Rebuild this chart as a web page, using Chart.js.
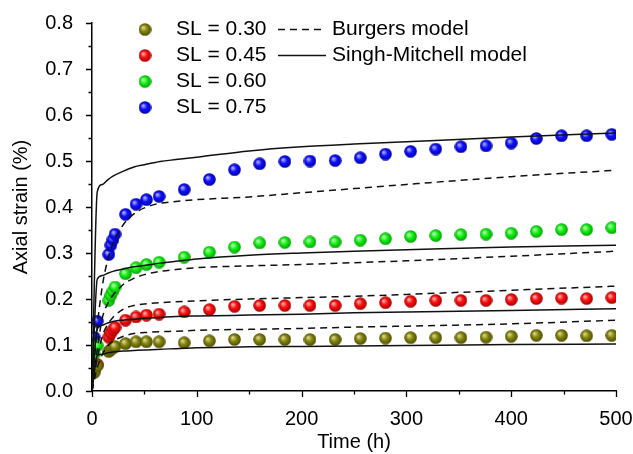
<!DOCTYPE html>
<html lang="en">
<head>
  <meta charset="UTF-8">
  <title>Axial strain vs time</title>
  <script src="https://cdn.jsdelivr.net/npm/chart.js"></script>
  <style>
    html, body { margin: 0; padding: 0; background: #fff; overflow: hidden; }
  </style>
</head>
<body>
  <canvas id="grafico" width="633" height="454"></canvas>

  <script>
    // measured points (time in h, strain in %)
    const timeObs = [2, 5, 16, 18, 20, 22, 32, 42, 52, 64, 88, 112, 136, 160, 184, 208, 232, 256, 280, 304, 328, 352, 376, 400, 424, 448, 472, 496];
    const sl30 = [0.040, 0.055, 0.086, 0.090, 0.094, 0.097, 0.103, 0.107, 0.107, 0.107, 0.105, 0.109, 0.112, 0.112, 0.112, 0.112, 0.112, 0.114, 0.115, 0.116, 0.116, 0.116, 0.117, 0.119, 0.121, 0.121, 0.120, 0.121];
    const sl45 = [0.046, 0.058, 0.117, 0.126, 0.133, 0.138, 0.154, 0.161, 0.165, 0.167, 0.172, 0.177, 0.184, 0.186, 0.186, 0.186, 0.186, 0.190, 0.192, 0.195, 0.197, 0.197, 0.197, 0.199, 0.201, 0.202, 0.201, 0.203];
    const sl60 = [0.080, 0.099, 0.197, 0.208, 0.217, 0.226, 0.255, 0.268, 0.275, 0.280, 0.291, 0.302, 0.313, 0.322, 0.323, 0.324, 0.324, 0.328, 0.331, 0.336, 0.338, 0.340, 0.341, 0.343, 0.347, 0.351, 0.351, 0.355];
    const sl75 = [0.117, 0.152, 0.297, 0.317, 0.329, 0.341, 0.384, 0.406, 0.416, 0.423, 0.438, 0.460, 0.481, 0.494, 0.499, 0.500, 0.501, 0.507, 0.515, 0.521, 0.526, 0.531, 0.533, 0.539, 0.549, 0.555, 0.555, 0.558];

    // model curves sampled at these times
    const timeModel = [0, 5, 10, 15, 20, 30, 40, 50, 65, 80, 100, 150, 200, 250, 300, 400, 500];
    const burgers30 = [0, 0.050, 0.080, 0.098, 0.108, 0.119, 0.125, 0.127, 0.129, 0.130, 0.132, 0.134, 0.136, 0.139, 0.141, 0.146, 0.154];
    const burgers45 = [0, 0.070, 0.120, 0.145, 0.160, 0.178, 0.186, 0.189, 0.192, 0.194, 0.196, 0.200, 0.203, 0.206, 0.210, 0.219, 0.228];
    const burgers60 = [0, 0.090, 0.160, 0.190, 0.208, 0.232, 0.245, 0.253, 0.260, 0.264, 0.268, 0.272, 0.275, 0.279, 0.283, 0.293, 0.304];
    const burgers75 = [0, 0.140, 0.230, 0.285, 0.320, 0.362, 0.385, 0.398, 0.408, 0.412, 0.416, 0.422, 0.431, 0.440, 0.449, 0.466, 0.480];
    const singh30 = [0, 0.077, 0.080, 0.083, 0.085, 0.087, 0.088, 0.089, 0.091, 0.092, 0.094, 0.096, 0.097, 0.098, 0.099, 0.101, 0.102];
    const singh45 = [0, 0.135, 0.143, 0.148, 0.151, 0.154, 0.156, 0.158, 0.160, 0.162, 0.163, 0.165, 0.167, 0.170, 0.172, 0.175, 0.179];
    const singh60 = [0, 0.243, 0.251, 0.256, 0.260, 0.265, 0.270, 0.273, 0.278, 0.282, 0.287, 0.295, 0.300, 0.304, 0.307, 0.313, 0.317];
    const singh75 = [0, 0.433, 0.449, 0.459, 0.467, 0.478, 0.487, 0.492, 0.499, 0.503, 0.508, 0.522, 0.531, 0.537, 0.542, 0.552, 0.561];

    const serieLabels = ['SL = 0.30', 'SL = 0.45', 'SL = 0.60', 'SL = 0.75'];
    const modelLabels = ['Burgers model', 'Singh-Mitchell model'];
    const xTicks = [0, 100, 200, 300, 400, 500];

    const fuente = '"Liberation Sans", Arial, sans-serif';
    Chart.defaults.font.family = fuente;
    Chart.defaults.color = '#000';

    // shaded balls for the markers
    function bola(base, luz, sombra) {
      const c = document.createElement('canvas');
      c.width = 13; c.height = 13;
      const g = c.getContext('2d');
      const grad = g.createRadialGradient(4.5, 4.5, 0.5, 6.5, 6.5, 6.5);
      grad.addColorStop(0, luz);
      grad.addColorStop(0.45, base);
      grad.addColorStop(1, sombra);
      g.fillStyle = grad;
      g.beginPath();
      g.arc(6.5, 6.5, 6.3, 0, Math.PI * 2);
      g.fill();
      return c;
    }
    const bolas = [
      bola('#85850e', '#d8d890', '#4a4a00'),
      bola('#ff1010', '#ffb0b0', '#a00000'),
      bola('#16f016', '#b8ffb8', '#00a000'),
      bola('#1010ff', '#b0b0ff', '#0000a0')
    ];

    const pares = (xs, ys) => xs.map((x, i) => ({ x: x, y: ys[i] }));

    const obs = [sl30, sl45, sl60, sl75].map((serie, i) => ({
      label: serieLabels[i],
      data: pares(timeObs, serie),
      pointStyle: bolas[i],
      pointRadius: 6,
      showLine: false,
      order: 2
    }));

    const lineaModelo = (serie, dash) => ({
      label: '',
      data: pares(timeModel, serie),
      showLine: true,
      pointRadius: 0,
      borderColor: '#111',
      borderWidth: 1.5,
      borderDash: dash,
      cubicInterpolationMode: 'monotone',
      order: 1
    });

    const modelos = [
      ...[burgers30, burgers45, burgers60, burgers75].map(s => lineaModelo(s, [7, 5])),
      ...[singh30, singh45, singh60, singh75].map(s => lineaModelo(s, []))
    ];

    // outward tick marks, major + minor
    const marcas = {
      id: 'marcas',
      afterDraw(chart) {
        const ctx = chart.ctx;
        const xs = chart.scales.x, ys = chart.scales.y;
        const area = chart.chartArea;
        ctx.save();
        ctx.strokeStyle = '#000';
        ctx.lineWidth = 1.3;
        ctx.beginPath();
        for (let t = 0; t <= 500; t += 50) {
          const px = Math.round(xs.getPixelForValue(t)) + 0.5;
          const largo = t % 100 === 0 ? 6 : 3.5;
          ctx.moveTo(px, area.bottom);
          ctx.lineTo(px, area.bottom + largo);
        }
        for (let k = 0; k <= 16; k++) {
          const py = Math.round(ys.getPixelForValue(k * 0.05)) + 0.5;
          const largo = k % 2 === 0 ? 6 : 3.5;
          ctx.moveTo(area.left, py);
          ctx.lineTo(area.left - largo, py);
        }
        ctx.stroke();
        ctx.restore();
      }
    };

    // two-column legend inside the plot
    const leyenda = {
      id: 'leyenda',
      afterDraw(chart) {
        const ctx = chart.ctx;
        ctx.save();
        ctx.font = '21px ' + fuente;
        ctx.fillStyle = '#000';
        ctx.textBaseline = 'middle';
        serieLabels.forEach((txt, i) => {
          const y = 29.5 + i * 26;
          ctx.drawImage(bolas[i], 145 - 6.5, y - 6.5);
          ctx.fillText(txt, 176, y);
        });
        modelLabels.forEach((txt, i) => {
          const y = 29.5 + i * 26;
          ctx.strokeStyle = '#111';
          ctx.lineWidth = 1.5;
          ctx.setLineDash(i === 0 ? [7, 5] : []);
          ctx.beginPath();
          ctx.moveTo(278, y);
          ctx.lineTo(326, y);
          ctx.stroke();
          ctx.fillText(txt, 332, y);
        });
        ctx.restore();
      }
    };

    new Chart(document.getElementById('grafico'), {
      type: 'scatter',
      data: { datasets: [...obs, ...modelos] },
      options: {
        responsive: false,
        animation: false,
        devicePixelRatio: 1,
        layout: { padding: { top: 23, right: 17, left: 0, bottom: 0 } },
        plugins: {
          legend: { display: false },
          tooltip: { enabled: false }
        },
        scales: {
          x: {
            type: 'linear',
            min: 0,
            max: 500,
            afterFit: s => { s.height = 63; s.paddingLeft = 0; s.paddingRight = 0; },
            afterBuildTicks: s => { s.ticks = xTicks.map(v => ({ value: v })); },
            grid: { display: false },
            border: { display: true, color: '#000', width: 1.5 },
            ticks: { font: { size: 20 }, padding: 8, maxRotation: 0 },
            title: { display: true, text: 'Time (h)', font: { size: 20 }, padding: { top: 0, bottom: 0 } }
          },
          y: {
            min: 0,
            max: 0.8,
            afterFit: s => { s.width = 92; s.paddingTop = 0; s.paddingBottom = 0; },
            grid: { display: false },
            border: { display: true, color: '#000', width: 1.5 },
            ticks: { stepSize: 0.1, font: { size: 20 }, padding: 11, callback: v => v.toFixed(1) },
            title: { display: true, text: 'Axial strain (%)', font: { size: 20 }, padding: { top: 9, bottom: 0 } }
          }
        }
      },
      plugins: [marcas, leyenda]
    });
  </script>
</body>
</html>
